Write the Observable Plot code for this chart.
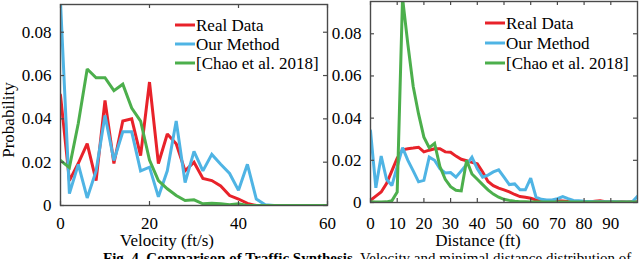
<!DOCTYPE html>
<html><head><meta charset="utf-8">
<script src="https://cdn.jsdelivr.net/npm/d3@7"></script>
<script src="https://cdn.jsdelivr.net/npm/@observablehq/plot@0.6"></script>
<style>
html,body{margin:0;padding:0;background:#fff;}
#wrap{position:relative;width:640px;height:259px;overflow:hidden;font-family:"Liberation Serif","Times New Roman",serif;color:#000;}
.plot{position:absolute;top:0;}
.lbl{position:absolute;font-size:17px;line-height:17px;white-space:nowrap;}
.cap{position:absolute;font-size:15px;line-height:15px;white-space:nowrap;}
</style></head><body><div id="wrap"></div>
<script>
// ---- data ----
const seriesNames = ["Real Data", "Our Method", "[Chao et al. 2018]"];
const seriesColors = ["#e8222a", "#4fb4e4", "#4caf4c"];

const velocity = [0,2,4,6,8,10,12,14,16,18,20,22,24,26,28,30,32,34,36,38,40,42,44,46,48,50,52,54,56,58,60];
const velReal = [0.051,0.0115,0.0195,0.0286,0.0115,0.0485,0.0194,0.039,0.040,0.023,0.057,0.0194,0.033,0.0285,0.016,0.020,0.0125,0.0115,0.009,0.0046,0.003,0.001,0,0,0,0,0,0,0,0,0];
const velOurs = [0.094,0.0055,0.019,0.0035,0.016,0.0416,0.0208,0.034,0.034,0.016,0.0177,0.004,0.016,0.039,0.0106,0.025,0.016,0.0236,0.019,0.0148,0.007,0.019,0.003,0.0003,0,0,0,0,0,0,0];
const velChao = [0.0208,0.0175,0.038,0.063,0.059,0.059,0.053,0.056,0.045,0.039,0.021,0.0115,0.0077,0.0046,0.0023,0.0026,0.0008,0.001,0.0008,0.0003,0.0008,0,0,0,0,0,0,0,0,0,0];

const distance = [0,2,4,6,8,10,12,14,16,18,20,22,24,26,28,30,32,34,36,38,40,42,44,46,48,50,52,54,56,58,60,62,64,66,68,70,72,74,76,78,80,82,84,86,88,90,92,94,96,98,100];
const distReal = [0.001,0.003,0.005,0.009,0.015,0.021,0.025,0.0255,0.0258,0.0262,0.024,0.0248,0.0255,0.0255,0.024,0.0238,0.022,0.0205,0.0198,0.019,0.0183,0.0145,0.010,0.008,0.0068,0.006,0.005,0.0038,0.0028,0.0025,0.002,0.0012,0.001,0.0008,0.0006,0.0008,0.0007,0.0005,0.0004,0.0003,0.0004,0.0003,0.0006,0.0008,0.0004,0.0003,0.0002,0.0003,0.0002,0.0003,0.0002];
const distOurs = [0.034,0.007,0.022,0.011,0.008,0.017,0.026,0.020,0.015,0.0098,0.0105,0.0215,0.020,0.016,0.014,0.0142,0.012,0.015,0.018,0.0215,0.016,0.012,0.013,0.0145,0.0155,0.012,0.0085,0.0088,0.006,0.006,0.0115,0.0025,0.0015,0.0012,0.0012,0.0018,0.0028,0.0018,0.001,0.0008,0.0006,0.0005,0.0004,0.0004,0.0003,0.0003,0.0003,0.0002,0.0002,0.0002,0.003];
const distChao = [0.0003,0.0002,0.0002,0.0003,0.0008,0.005,0.097,0.075,0.055,0.042,0.031,0.026,0.028,0.017,0.011,0.0075,0.0058,0.0055,0.020,0.0135,0.011,0.0085,0.006,0.004,0.0025,0.0015,0.001,0.0006,0.0004,0.0003,0.0002,0.0002,0.0002,0.0002,0.0002,0.0002,0.0002,0.0002,0.0002,0.0002,0.0002,0.0002,0.0002,0.0002,0.0002,0.0002,0.0002,0.0002,0.0002,0.0002,0.0002];

const velTicks = [0,20,40,60];
const distTicks = [0,10,20,30,40,50,60,70,80,90];
const probTicks = [0,0.02,0.04,0.06,0.08];

const xLabelLeft = "Velocity (ft/s)";
const xLabelRight = "Distance (ft)";
const yLabel = "Probability";
const captionBold = "Fig. 4. Comparison of Traffic Synthesis.";
const captionRest = " Velocity and minimal distance distribution of";

// ---- drawing ----
const frameColor = "#4a4a4a";
const H = 259;

function panel(o) {
  const rows = [];
  o.series.forEach((vals, k) => vals.forEach((v, i) => rows.push({x: o.xs[i], y: v, name: seriesNames[k]})));
  const fh = H - o.mt - o.mb, fw = o.width - o.ml - o.mr;
  const svg = Plot.plot({
    width: o.width, height: H,
    marginLeft: o.ml, marginRight: o.mr, marginTop: o.mt, marginBottom: o.mb,
    style: {fontFamily: '"Liberation Serif", serif', fontSize: "17px", background: "transparent", color: "#000", overflow: "visible"},
    x: {domain: o.xDomain},
    y: {domain: o.yDomain},
    color: {domain: seriesNames, range: seriesColors},
    marks: [
      Plot.axisX({ticks: o.xTicks, anchor: "bottom", tickSize: 0, tickPadding: o.xPad, label: null, tickFormat: d => String(d), fill: "#000"}),
      Plot.axisY({ticks: probTicks, anchor: "left", tickSize: 0, tickPadding: 9, label: null, tickFormat: d => d === 0 ? "0" : d.toFixed(2), fill: "#000"}),
      Plot.line(rows, {x: "x", y: "y", z: "name", stroke: "name", strokeWidth: 3, clip: true, strokeLinejoin: "miter", strokeMiterlimit: 2}),
      Plot.ruleX(o.xTicks, {x: d => d, insetTop: fh - 4, stroke: frameColor, strokeWidth: 1.2}),
      Plot.ruleX(o.xTicks, {x: d => d, insetBottom: fh - 4, stroke: frameColor, strokeWidth: 1.2}),
      Plot.ruleY(probTicks, {y: d => d, insetRight: fw - 4, stroke: frameColor, strokeWidth: 1.2}),
      Plot.ruleY(probTicks, {y: d => d, insetLeft: fw - 4, stroke: frameColor, strokeWidth: 1.2}),
      Plot.frame({stroke: frameColor, strokeWidth: 1.4})
    ]
  });
  svg.classList.add("plot");
  svg.style.left = o.left + "px";
  // legend
  const g = d3.select(svg).append("g").attr("text-anchor", "start");
  seriesNames.forEach((n, i) => {
    const y = o.legY + i * o.legStep;
    g.append("line").attr("x1", o.legX).attr("x2", o.legX + 20).attr("y1", y).attr("y2", y)
      .attr("stroke", seriesColors[i]).attr("stroke-width", 3);
    g.append("text").attr("x", o.legX + 21).attr("y", y).attr("dy", "0.35em")
      .attr("text-anchor", "start").attr("font-size", 17).attr("fill", "#000").text(n);
  });
  return svg;
}

const wrap = document.getElementById("wrap");
wrap.appendChild(panel({
  xs: velocity, series: [velReal, velOurs, velChao],
  xDomain: [0, 60], yDomain: [0, 0.0928], xTicks: velTicks,
  width: 330, left: 0, ml: 60, mr: 3, mt: 4, mb: 54, xPad: 11,
  legX: 175, legY: 25, legStep: 19
}));
wrap.appendChild(panel({
  xs: distance, series: [distReal, distOurs, distChao],
  xDomain: [0, 100], yDomain: [0, 0.0953], xTicks: distTicks,
  width: 310, left: 330, ml: 40, mr: 3, mt: 1, mb: 57, xPad: 14,
  legX: 155, legY: 23, legStep: 20
}));

function addDiv(cls, html, css) {
  const d = document.createElement("div");
  d.className = cls;
  d.innerHTML = html;
  Object.assign(d.style, css);
  wrap.appendChild(d);
  return d;
}
addDiv("lbl", xLabelLeft, {left: "167px", top: "232px", transform: "translateX(-50%)"});
addDiv("lbl", xLabelRight, {left: "478px", top: "232px", transform: "translateX(-50%)"});
addDiv("lbl", yLabel, {left: "8px", top: "120px", transform: "translate(-50%,-50%) rotate(-90deg)"});
addDiv("cap", "<b>" + captionBold + "</b>" + captionRest, {left: "103px", top: "251px"});
</script></body></html>
